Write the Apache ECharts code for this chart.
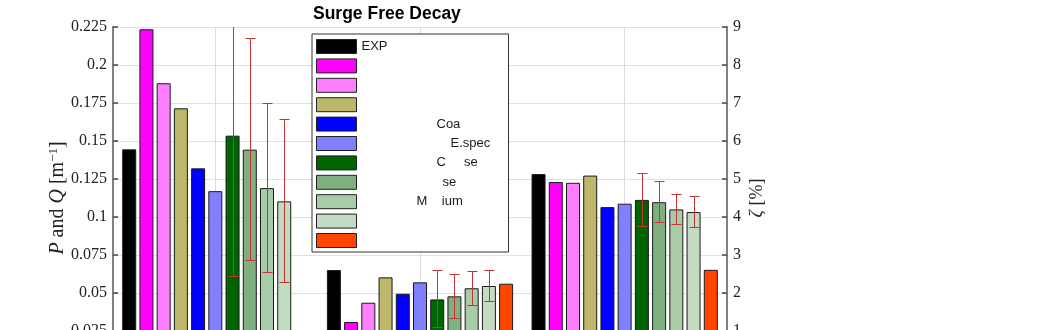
<!DOCTYPE html>
<html><head><meta charset="utf-8">
<script src="https://cdn.jsdelivr.net/npm/echarts@6/dist/echarts.min.js"></script>
<style>html,body{margin:0;padding:0;overflow:hidden;background:#fff}#c{width:1060px;height:400px}</style>
</head><body><div id="c"></div>
<script>
// ---------- data ----------
const categories = ['P', 'Q', 'ζ'];
const seriesNames = ['EXP', 'S2', 'S3', 'S4', 'S5', 'S6', 'S7', 'S8', 'S9', 'S10', 'S11'];
const legendText = ['EXP', '', '', '', 'Coa', 'E.spec', 'C     se', 'se', 'M    ium', '', ''];
const pValues    = [0.1445, 0.2235, 0.188, 0.1715, 0.132, 0.117, 0.1535, 0.1443, 0.119, 0.1103, null];
const qValues    = [0.0651, 0.0309, 0.0436, 0.0603, 0.0495, 0.057, 0.0458, 0.0478, 0.0531, 0.0546, 0.0561];
const zetaValues = [5.13, 4.92, 4.90, 5.09, 4.26, 4.35, 4.45, 4.39, 4.20, 4.13, 2.61];
const pErrors    = [null, null, null, null, null, null, 0.093, 0.0732, 0.056, 0.054, null];
const qErrors    = [null, null, null, null, null, null, 0.0191, 0.015, 0.0115, 0.0107, null];
const zetaErrors = [null, null, null, null, null, null, 0.70, 0.55, 0.415, 0.41, null];
const leftTicks  = {min: 0, max: 0.225, interval: 0.025};
const rightTicks = {min: 0, max: 9, interval: 1};

// ---------- style ----------
const colors = ['#000000', '#ff00ff', '#ff80ff', '#bdb76b', '#0000ff', '#8080ff',
                '#006400', '#80b080', '#a8cca8', '#c2dbc2', '#ff4500'];
const legendIndent = [0, 0, 0, 0, 75, 89, 75, 81, 55, 0, 0];
const CAT_GAP = 0.09, BAR_GAP = 0.23;
const serif = 'Liberation Serif, Times New Roman, serif';
const sans = 'Liberation Sans, Arial, sans-serif';
const ERR_COLOR = '#c43434';

const N = seriesNames.length;
const series = [];
function barSeries(name, i, xi, data) {
  return {
    name, type: 'bar', barCategoryGap: (CAT_GAP * 100) + '%', barGap: (BAR_GAP * 100) + '%',
    itemStyle: {color: colors[i], borderColor: '#1a1a1a', borderWidth: 1},
    emphasis: {disabled: true}, animation: false,
    xAxisIndex: xi, yAxisIndex: xi, data
  };
}
seriesNames.forEach((name, i) => series.push(barSeries(name, i, 0, [pValues[i], qValues[i], null])));
seriesNames.forEach((name, i) => series.push(barSeries(name, i, 1, [null, null, zetaValues[i]])));

function renderErr(params, api) {
  const k = api.value(1), v = api.value(2), e = api.value(3);
  const band = api.size([1, 0])[0];
  const usable = band * (1 - CAT_GAP);
  const bw = usable / (N + (N - 1) * BAR_GAP);
  const xOff = -usable / 2 + k * bw * (1 + BAR_GAP) + bw / 2;
  const hi = api.coord([api.value(0), v + e]);
  const lo = api.coord([api.value(0), v - e]);
  const x = Math.round(hi[0] + xOff);
  const cap = 4.5;
  const style = {fill: ERR_COLOR, stroke: null};
  const yh = Math.round(hi[1]), yl = Math.round(lo[1]);
  return {type: 'group', children: [
    {type: 'rect', shape: {x: x, y: yh, width: 1, height: yl - yh}, style},
    {type: 'rect', shape: {x: x - cap, y: yh, width: 2 * cap + 1, height: 1}, style},
    {type: 'rect', shape: {x: x - cap, y: yl - 1, width: 2 * cap + 1, height: 1}, style}
  ]};
}
const errLeft = [], errRight = [];
for (let i = 0; i < N; i++) {
  if (pErrors[i] != null) errLeft.push([categories[0], i, pValues[i], pErrors[i]]);
  if (qErrors[i] != null) errLeft.push([categories[1], i, qValues[i], qErrors[i]]);
  if (zetaErrors[i] != null) errRight.push([categories[2], i, zetaValues[i], zetaErrors[i]]);
}
series.push({type: 'custom', xAxisIndex: 0, yAxisIndex: 0, renderItem: renderErr, data: errLeft,
  encode: {x: 0, y: 2}, clip: true, z: 5, silent: true, animation: false});
series.push({type: 'custom', xAxisIndex: 1, yAxisIndex: 1, renderItem: renderErr, data: errRight,
  encode: {x: 0, y: 2}, clip: true, z: 5, silent: true, animation: false});

const rich = {};
legendIndent.forEach((p, i) => {
  rich['t' + i] = {padding: [0, 0, 0, p], fontFamily: sans, fontSize: 13, lineHeight: 14, color: '#1a1a1a'};
});

const axisLineStyle = {color: '#808080', width: 2};
const option = {
  animation: false,
  title: {text: 'Surge Free Decay', left: 313, top: 5, padding: 0,
    textStyle: {fontFamily: sans, fontWeight: 'bold', fontSize: 17.5, color: '#000'}},
  grid: {left: 113, right: 333, top: 27, bottom: 31, containLabel: false},
  legend: {
    data: seriesNames, orient: 'vertical', left: 312, top: 34,
    padding: [5, 4, 4, 4], itemWidth: 40, itemHeight: 14, itemGap: 4.4,
    borderColor: '#333', borderWidth: 1, backgroundColor: '#fff', icon: 'rect',
    selectedMode: false,
    itemStyle: {borderWidth: 1, borderColor: '#222'},
    formatter: name => {
      const i = seriesNames.indexOf(name);
      return legendText[i] ? '{t' + i + '|' + legendText[i] + '}' : '{t' + i + '| }';
    },
    textStyle: {fontFamily: sans, fontSize: 13, color: '#1a1a1a', width: 143, height: 14, lineHeight: 14, rich}
  },
  xAxis: [
    {type: 'category', data: categories, position: 'bottom',
      axisLine: {lineStyle: axisLineStyle}, axisTick: {inside: true, alignWithLabel: true, length: 5, lineStyle: {color: '#000'}},
      axisLabel: {fontFamily: serif, fontSize: 16, color: '#222'},
      splitLine: {show: true, alignWithLabel: true, lineStyle: {color: '#dcdcdc', width: 1}}},
    {type: 'category', data: categories, position: 'top',
      axisLine: {lineStyle: axisLineStyle}, axisTick: {inside: true, alignWithLabel: true, length: 6, lineStyle: {color: '#000', width: 1.5}},
      axisLabel: {show: false}, splitLine: {show: false}}
  ],
  yAxis: [
    {type: 'value', position: 'left', min: leftTicks.min, max: leftTicks.max, interval: leftTicks.interval,
      axisLine: {show: true, lineStyle: axisLineStyle},
      axisTick: {show: true, inside: true, length: 5, lineStyle: {color: '#444', width: 1.5}},
      axisLabel: {fontFamily: serif, fontSize: 16, color: '#222', margin: 6},
      splitLine: {show: true, lineStyle: {color: '#e0e0e0', width: 1}},
      name: '{i|P} and {i|Q} [m{s|−1}]', nameLocation: 'middle', nameRotate: 90, nameGap: 44,
      nameMoveOverlap: false,
      nameTextStyle: {fontFamily: serif, fontSize: 20, color: '#222', lineHeight: 22,
        rich: {i: {fontStyle: 'italic', fontFamily: serif, fontSize: 20, lineHeight: 22},
               s: {fontFamily: serif, fontSize: 13, lineHeight: 13, verticalAlign: 'top'}}}},
    {type: 'value', position: 'right', min: rightTicks.min, max: rightTicks.max, interval: rightTicks.interval,
      axisLine: {show: true, lineStyle: axisLineStyle},
      axisTick: {show: true, inside: true, length: 5, lineStyle: {color: '#444', width: 1.5}},
      axisLabel: {fontFamily: serif, fontSize: 16, color: '#222', margin: 6},
      splitLine: {show: false},
      name: '{i|ζ} [%]', nameLocation: 'middle', nameRotate: 90, nameGap: 21,
      nameMoveOverlap: false,
      nameTextStyle: {fontFamily: serif, fontSize: 18, color: '#222',
        rich: {i: {fontStyle: 'italic', fontFamily: serif, fontSize: 18}}}}
  ],
  series
};
const chart = echarts.init(document.getElementById('c'), null, {renderer: 'canvas'});
chart.setOption(option);
</script></body></html>
